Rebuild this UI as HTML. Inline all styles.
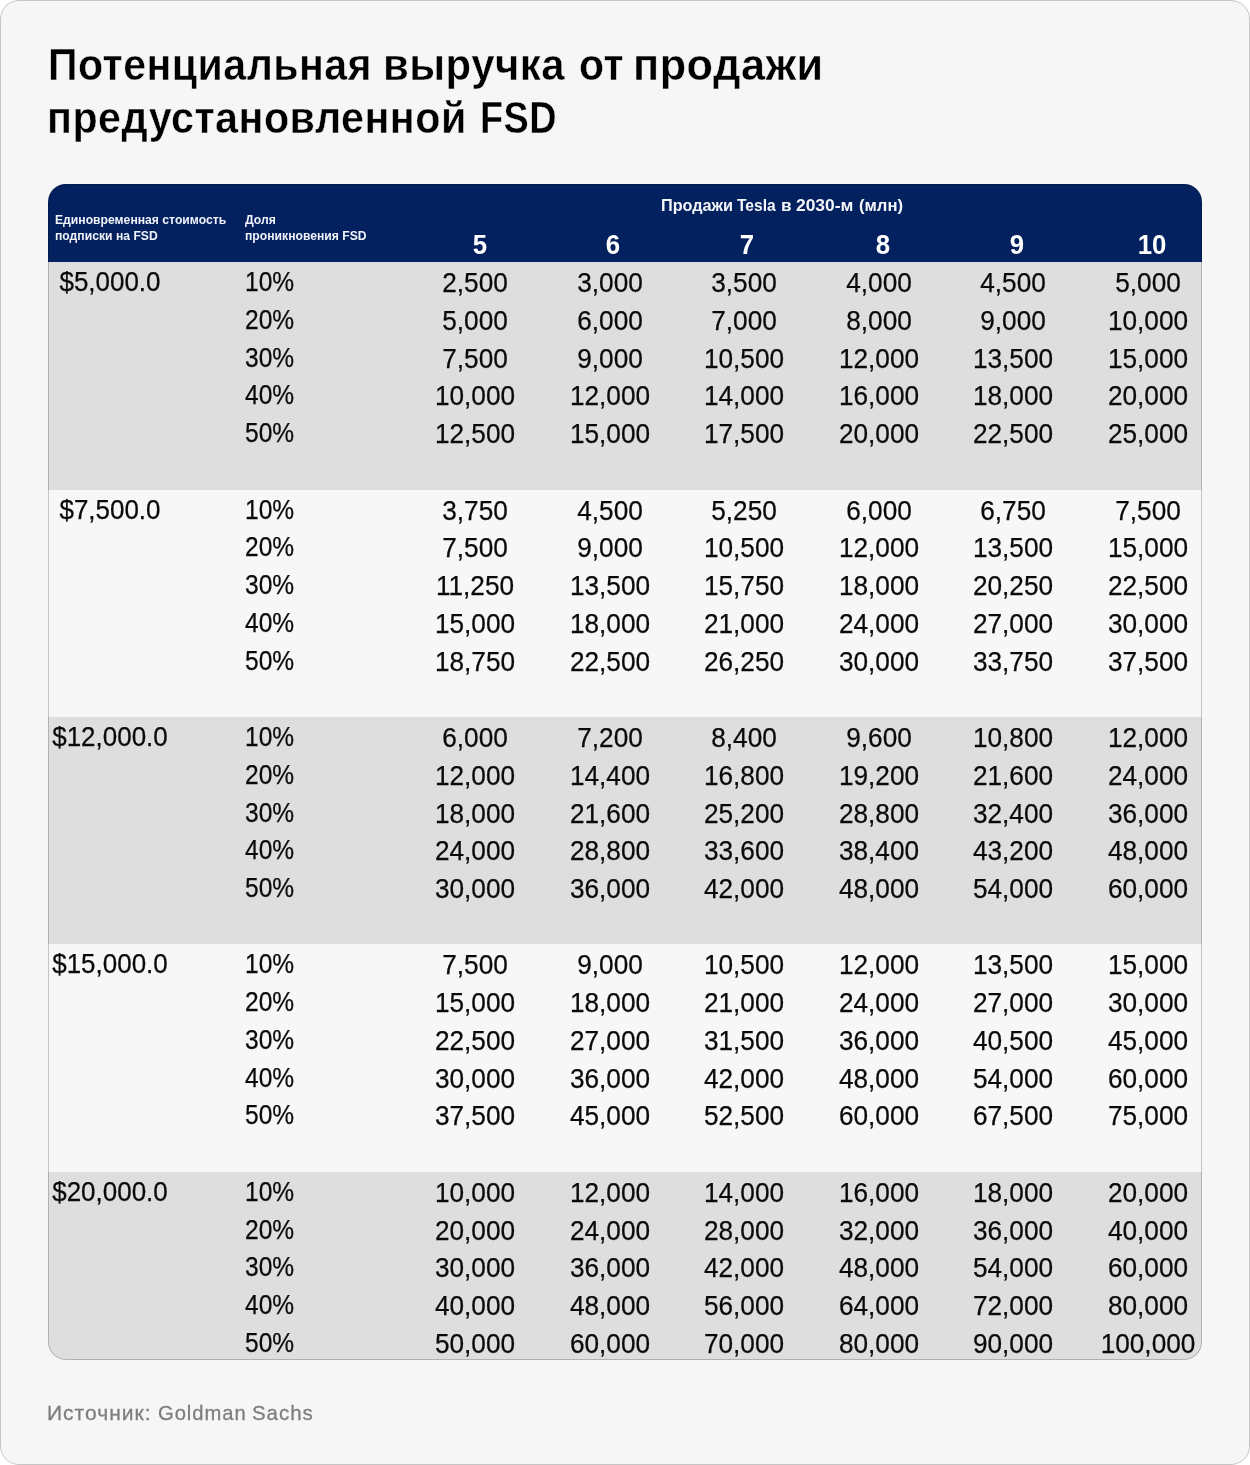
<!DOCTYPE html>
<html lang="ru"><head><meta charset="utf-8"><title>Потенциальная выручка от продажи предустановленной FSD</title>
<style>
*{box-sizing:border-box;margin:0;padding:0}
html,body{width:1250px;height:1465px;background:#fff;overflow:hidden}
body{font-family:"Liberation Sans",Arial,sans-serif;color:#000}
.card{position:absolute;left:0;top:0;width:1250px;height:1465px;background:#f6f6f6;border:1px solid #c6c6c6;border-radius:19px;overflow:hidden}
h1{position:absolute;left:0;top:0;font-size:45px;font-weight:700;-webkit-text-stroke:.45px #f6f6f6;line-height:52.5px;color:#000;white-space:nowrap;letter-spacing:.5px}
h1 span{display:block;position:absolute;transform-origin:0 50%;white-space:nowrap}
h1 .l1{top:38px}
h1 .l2{top:90.5px}
.tbl{position:absolute;left:47px;top:183px;width:1154px;height:1176px;border-radius:18px;overflow:hidden;background:#f7f7f7}
.tbl:after{content:"";position:absolute;inset:0;border-radius:18px;box-shadow:inset 0 0 0 1px rgba(0,0,0,.2);pointer-events:none}
.hdr{position:absolute;left:0;top:0;width:100%;height:78.1px;background:#03205f;color:#fff}
.hdr .lab{position:absolute;color:#f0f3fa;font-size:12px;font-weight:700;line-height:16.2px;white-space:nowrap;transform-origin:0 50%;transform:translateY(.6px) scaleX(1.014)}
.hdr .ttl{position:absolute;left:0;top:12px;font-size:16px;font-weight:700;line-height:20px;white-space:nowrap;color:#f4f6fb}
.hdr .ttl span{position:absolute;top:0;display:block;transform-origin:0 50%}
.hdr .n{position:absolute;width:60px;margin-left:-30px;text-align:center;font-size:27px;font-weight:700;line-height:28px;transform:scaleX(.955)}
.grp{position:absolute;left:0;width:100%}
.grp.g{background:#dedede}
.row{position:absolute;left:0;width:100%;height:37.75px;font-size:27.1px;line-height:37.75px;color:#0a0a0a;-webkit-text-stroke:.25px #0a0a0a}
.row span{position:absolute;top:2.05px;white-space:nowrap}
.row .p{width:160px;margin-left:-80px;text-align:center;transform:translateY(-.8px) scaleX(.958)}
.row .s{transform-origin:0 50%;transform:translateY(-.8px) scaleX(.905)}
.row .v{width:160px;margin-left:-80px;text-align:center;transform:scaleX(.967)}
.src{position:absolute;left:0;top:1399px;font-size:20.8px;line-height:26px;color:#7e7e7e;-webkit-text-stroke:.3px #7e7e7e;white-space:nowrap;letter-spacing:1px}
.src span{position:absolute;top:0;display:block;transform-origin:0 50%}
</style></head>
<body>
<div class="card">
<h1><span class="l1" style="left:46.66px;transform:scaleX(0.9141)">Потенциальная</span> <span class="l1" style="left:381.87px;transform:scaleX(0.933)">выручка</span> <span class="l1" style="left:577.88px;transform:scaleX(0.9089)">от</span> <span class="l1" style="left:632.15px;transform:scaleX(0.9621)">продажи</span> <span class="l2" style="left:45.73px;transform:scaleX(0.9173)">предустановленной</span> <span class="l2" style="left:478.58px;transform:scaleX(0.8407)">FSD</span></h1>
<div class="tbl">
<div class="hdr">
<div class="lab" style="left:7px;top:26.5px">Единовременная стоимость<br>подписки на FSD</div>
<div class="lab" style="left:197.4px;top:26.5px">Доля<br>проникновения FSD</div>
<div class="ttl"><span style="left:613.49px;transform:scaleX(1.0145)">Продажи</span> <span style="left:689.20px;transform:scaleX(0.975)">Tesla</span> <span style="left:732.52px;transform:scaleX(1.075)">в</span> <span style="left:748.30px;transform:scaleX(1.0865)">2030-м</span> <span style="left:810.76px;transform:scaleX(1.039)">(млн)</span></div>
<div class="n" style="left:431.5px;top:47px">5</div>
<div class="n" style="left:565.3px;top:47px">6</div>
<div class="n" style="left:699.4px;top:47px">7</div>
<div class="n" style="left:834.6px;top:47px">8</div>
<div class="n" style="left:969.0px;top:47px">9</div>
<div class="n" style="left:1104.0px;top:47px">10</div>
</div>
<div class="grp g" style="top:78.10px;height:227.45px">
<div class="row" style="top:0.00px"><span class="p" style="left:61.7px">$5,000.0</span><span class="s" style="left:196.5px">10%</span><span class="v" style="left:427.0px">2,500</span><span class="v" style="left:561.5px">3,000</span><span class="v" style="left:696.0px">3,500</span><span class="v" style="left:830.5px">4,000</span><span class="v" style="left:965.0px">4,500</span><span class="v" style="left:1100.0px">5,000</span></div>
<div class="row" style="top:37.75px"><span class="s" style="left:196.5px">20%</span><span class="v" style="left:427.0px">5,000</span><span class="v" style="left:561.5px">6,000</span><span class="v" style="left:696.0px">7,000</span><span class="v" style="left:830.5px">8,000</span><span class="v" style="left:965.0px">9,000</span><span class="v" style="left:1100.0px">10,000</span></div>
<div class="row" style="top:75.50px"><span class="s" style="left:196.5px">30%</span><span class="v" style="left:427.0px">7,500</span><span class="v" style="left:561.5px">9,000</span><span class="v" style="left:696.0px">10,500</span><span class="v" style="left:830.5px">12,000</span><span class="v" style="left:965.0px">13,500</span><span class="v" style="left:1100.0px">15,000</span></div>
<div class="row" style="top:113.25px"><span class="s" style="left:196.5px">40%</span><span class="v" style="left:427.0px">10,000</span><span class="v" style="left:561.5px">12,000</span><span class="v" style="left:696.0px">14,000</span><span class="v" style="left:830.5px">16,000</span><span class="v" style="left:965.0px">18,000</span><span class="v" style="left:1100.0px">20,000</span></div>
<div class="row" style="top:151.00px"><span class="s" style="left:196.5px">50%</span><span class="v" style="left:427.0px">12,500</span><span class="v" style="left:561.5px">15,000</span><span class="v" style="left:696.0px">17,500</span><span class="v" style="left:830.5px">20,000</span><span class="v" style="left:965.0px">22,500</span><span class="v" style="left:1100.0px">25,000</span></div>
</div>
<div class="grp" style="top:305.55px;height:227.45px">
<div class="row" style="top:0.00px"><span class="p" style="left:61.7px">$7,500.0</span><span class="s" style="left:196.5px">10%</span><span class="v" style="left:427.0px">3,750</span><span class="v" style="left:561.5px">4,500</span><span class="v" style="left:696.0px">5,250</span><span class="v" style="left:830.5px">6,000</span><span class="v" style="left:965.0px">6,750</span><span class="v" style="left:1100.0px">7,500</span></div>
<div class="row" style="top:37.75px"><span class="s" style="left:196.5px">20%</span><span class="v" style="left:427.0px">7,500</span><span class="v" style="left:561.5px">9,000</span><span class="v" style="left:696.0px">10,500</span><span class="v" style="left:830.5px">12,000</span><span class="v" style="left:965.0px">13,500</span><span class="v" style="left:1100.0px">15,000</span></div>
<div class="row" style="top:75.50px"><span class="s" style="left:196.5px">30%</span><span class="v" style="left:427.0px">11,250</span><span class="v" style="left:561.5px">13,500</span><span class="v" style="left:696.0px">15,750</span><span class="v" style="left:830.5px">18,000</span><span class="v" style="left:965.0px">20,250</span><span class="v" style="left:1100.0px">22,500</span></div>
<div class="row" style="top:113.25px"><span class="s" style="left:196.5px">40%</span><span class="v" style="left:427.0px">15,000</span><span class="v" style="left:561.5px">18,000</span><span class="v" style="left:696.0px">21,000</span><span class="v" style="left:830.5px">24,000</span><span class="v" style="left:965.0px">27,000</span><span class="v" style="left:1100.0px">30,000</span></div>
<div class="row" style="top:151.00px"><span class="s" style="left:196.5px">50%</span><span class="v" style="left:427.0px">18,750</span><span class="v" style="left:561.5px">22,500</span><span class="v" style="left:696.0px">26,250</span><span class="v" style="left:830.5px">30,000</span><span class="v" style="left:965.0px">33,750</span><span class="v" style="left:1100.0px">37,500</span></div>
</div>
<div class="grp g" style="top:533.00px;height:227.45px">
<div class="row" style="top:0.00px"><span class="p" style="left:61.7px">$12,000.0</span><span class="s" style="left:196.5px">10%</span><span class="v" style="left:427.0px">6,000</span><span class="v" style="left:561.5px">7,200</span><span class="v" style="left:696.0px">8,400</span><span class="v" style="left:830.5px">9,600</span><span class="v" style="left:965.0px">10,800</span><span class="v" style="left:1100.0px">12,000</span></div>
<div class="row" style="top:37.75px"><span class="s" style="left:196.5px">20%</span><span class="v" style="left:427.0px">12,000</span><span class="v" style="left:561.5px">14,400</span><span class="v" style="left:696.0px">16,800</span><span class="v" style="left:830.5px">19,200</span><span class="v" style="left:965.0px">21,600</span><span class="v" style="left:1100.0px">24,000</span></div>
<div class="row" style="top:75.50px"><span class="s" style="left:196.5px">30%</span><span class="v" style="left:427.0px">18,000</span><span class="v" style="left:561.5px">21,600</span><span class="v" style="left:696.0px">25,200</span><span class="v" style="left:830.5px">28,800</span><span class="v" style="left:965.0px">32,400</span><span class="v" style="left:1100.0px">36,000</span></div>
<div class="row" style="top:113.25px"><span class="s" style="left:196.5px">40%</span><span class="v" style="left:427.0px">24,000</span><span class="v" style="left:561.5px">28,800</span><span class="v" style="left:696.0px">33,600</span><span class="v" style="left:830.5px">38,400</span><span class="v" style="left:965.0px">43,200</span><span class="v" style="left:1100.0px">48,000</span></div>
<div class="row" style="top:151.00px"><span class="s" style="left:196.5px">50%</span><span class="v" style="left:427.0px">30,000</span><span class="v" style="left:561.5px">36,000</span><span class="v" style="left:696.0px">42,000</span><span class="v" style="left:830.5px">48,000</span><span class="v" style="left:965.0px">54,000</span><span class="v" style="left:1100.0px">60,000</span></div>
</div>
<div class="grp" style="top:760.45px;height:227.45px">
<div class="row" style="top:0.00px"><span class="p" style="left:61.7px">$15,000.0</span><span class="s" style="left:196.5px">10%</span><span class="v" style="left:427.0px">7,500</span><span class="v" style="left:561.5px">9,000</span><span class="v" style="left:696.0px">10,500</span><span class="v" style="left:830.5px">12,000</span><span class="v" style="left:965.0px">13,500</span><span class="v" style="left:1100.0px">15,000</span></div>
<div class="row" style="top:37.75px"><span class="s" style="left:196.5px">20%</span><span class="v" style="left:427.0px">15,000</span><span class="v" style="left:561.5px">18,000</span><span class="v" style="left:696.0px">21,000</span><span class="v" style="left:830.5px">24,000</span><span class="v" style="left:965.0px">27,000</span><span class="v" style="left:1100.0px">30,000</span></div>
<div class="row" style="top:75.50px"><span class="s" style="left:196.5px">30%</span><span class="v" style="left:427.0px">22,500</span><span class="v" style="left:561.5px">27,000</span><span class="v" style="left:696.0px">31,500</span><span class="v" style="left:830.5px">36,000</span><span class="v" style="left:965.0px">40,500</span><span class="v" style="left:1100.0px">45,000</span></div>
<div class="row" style="top:113.25px"><span class="s" style="left:196.5px">40%</span><span class="v" style="left:427.0px">30,000</span><span class="v" style="left:561.5px">36,000</span><span class="v" style="left:696.0px">42,000</span><span class="v" style="left:830.5px">48,000</span><span class="v" style="left:965.0px">54,000</span><span class="v" style="left:1100.0px">60,000</span></div>
<div class="row" style="top:151.00px"><span class="s" style="left:196.5px">50%</span><span class="v" style="left:427.0px">37,500</span><span class="v" style="left:561.5px">45,000</span><span class="v" style="left:696.0px">52,500</span><span class="v" style="left:830.5px">60,000</span><span class="v" style="left:965.0px">67,500</span><span class="v" style="left:1100.0px">75,000</span></div>
</div>
<div class="grp g" style="top:987.90px;height:188.10px">
<div class="row" style="top:0.00px"><span class="p" style="left:61.7px">$20,000.0</span><span class="s" style="left:196.5px">10%</span><span class="v" style="left:427.0px">10,000</span><span class="v" style="left:561.5px">12,000</span><span class="v" style="left:696.0px">14,000</span><span class="v" style="left:830.5px">16,000</span><span class="v" style="left:965.0px">18,000</span><span class="v" style="left:1100.0px">20,000</span></div>
<div class="row" style="top:37.75px"><span class="s" style="left:196.5px">20%</span><span class="v" style="left:427.0px">20,000</span><span class="v" style="left:561.5px">24,000</span><span class="v" style="left:696.0px">28,000</span><span class="v" style="left:830.5px">32,000</span><span class="v" style="left:965.0px">36,000</span><span class="v" style="left:1100.0px">40,000</span></div>
<div class="row" style="top:75.50px"><span class="s" style="left:196.5px">30%</span><span class="v" style="left:427.0px">30,000</span><span class="v" style="left:561.5px">36,000</span><span class="v" style="left:696.0px">42,000</span><span class="v" style="left:830.5px">48,000</span><span class="v" style="left:965.0px">54,000</span><span class="v" style="left:1100.0px">60,000</span></div>
<div class="row" style="top:113.25px"><span class="s" style="left:196.5px">40%</span><span class="v" style="left:427.0px">40,000</span><span class="v" style="left:561.5px">48,000</span><span class="v" style="left:696.0px">56,000</span><span class="v" style="left:830.5px">64,000</span><span class="v" style="left:965.0px">72,000</span><span class="v" style="left:1100.0px">80,000</span></div>
<div class="row" style="top:151.00px"><span class="s" style="left:196.5px">50%</span><span class="v" style="left:427.0px">50,000</span><span class="v" style="left:561.5px">60,000</span><span class="v" style="left:696.0px">70,000</span><span class="v" style="left:830.5px">80,000</span><span class="v" style="left:965.0px">90,000</span><span class="v" style="left:1100.0px">100,000</span></div>
</div>
</div>
<div class="src"><span style="left:45.98px;transform:translateY(-.2px) scaleX(1.0101)">Источник:</span> <span style="left:156.83px;transform:translateY(-.2px) scaleX(0.9705)">Goldman</span> <span style="left:251.02px;transform:translateY(-.2px) scaleX(0.9833)">Sachs</span></div>
</div>
</body></html>
